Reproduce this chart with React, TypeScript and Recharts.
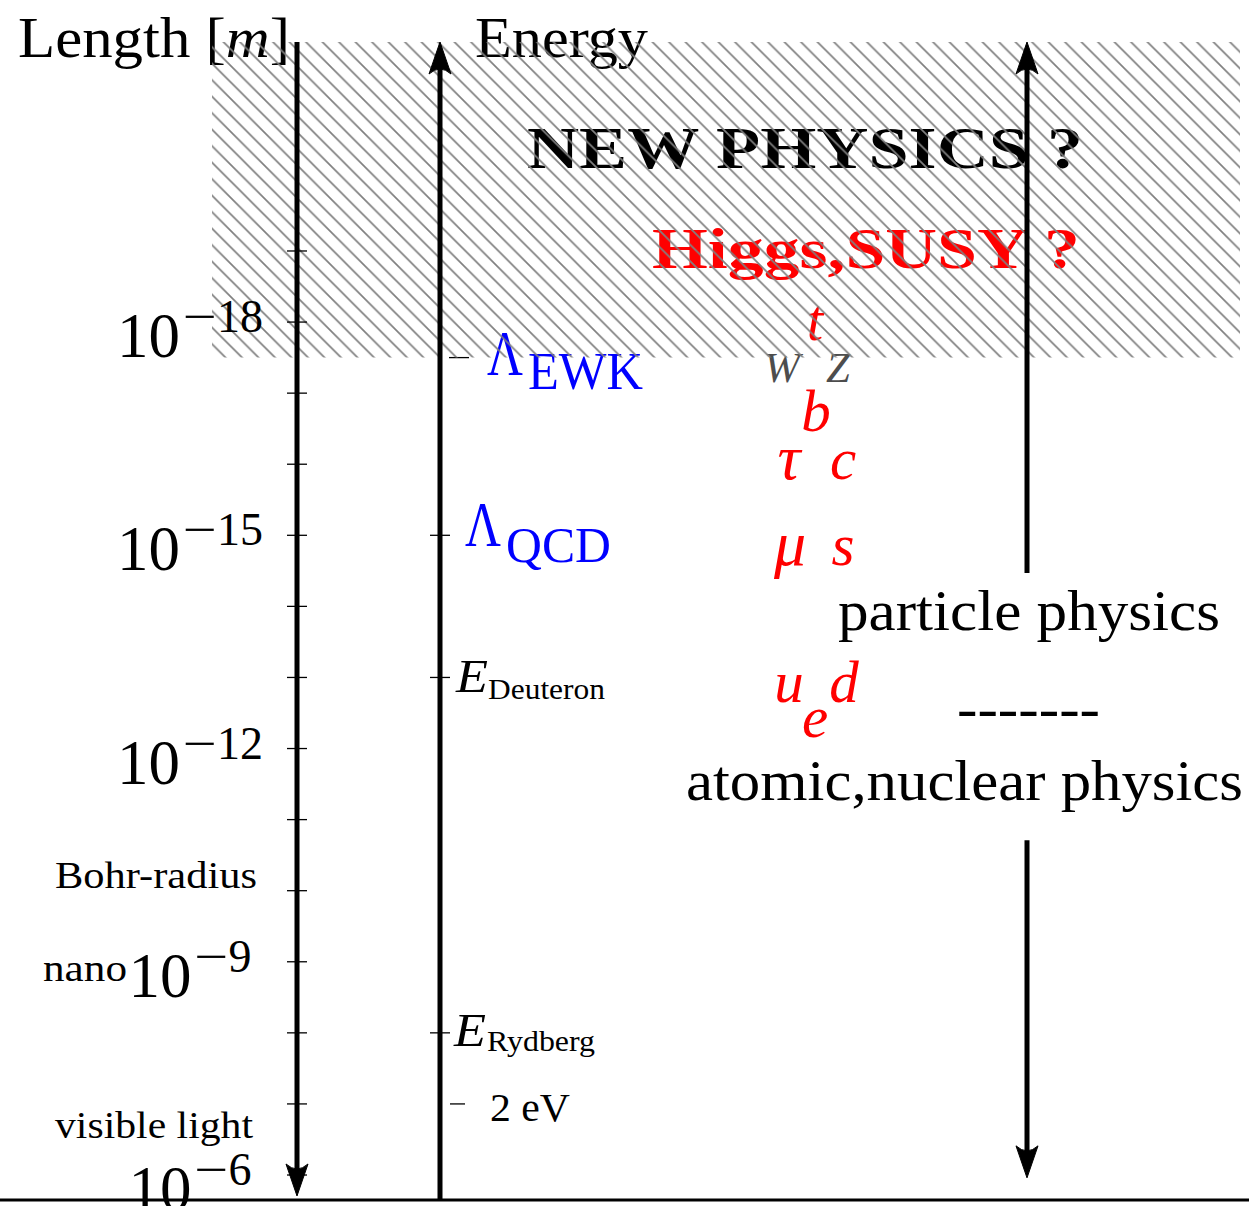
import React from 'react';
import { ComposedChart, XAxis, YAxis, Scatter, ReferenceArea, ReferenceLine } from 'recharts';

// ---------------- data (all vertical values are log10 of a length in metres) ----------------
const lengthTickExps = [-19, -18, -17, -16, -15, -14, -13, -12, -11, -10, -9, -8, -7, -6];
const lengthLabelExps = [-18, -15, -12, -9, -6];
const lengthNoteNames = ['Bohr-radius', 'nano', 'visible light'];
const lengthNoteExps = [-10.25, -9, -6.75];

const energyScaleNames = ['EWK', 'QCD', 'Deuteron', 'Rydberg', '2 eV'];
const energyScaleExps = [-17.5, -15, -13, -8, -7];

const particleNames = ['t', 'W', 'Z', 'b', 'τ', 'c', 'μ', 's', 'u', 'd', 'e'];
const particleExps = [-18, -17.35, -17.35, -16.72, -16, -16, -14.8, -14.8, -12.85, -12.85, -12.37];

const regionNames = ['NEW PHYSICS ?', 'Higgs,SUSY ?', 'particle physics', '-------', 'atomic,nuclear physics'];
const regionExps = [-20.46, -19.04, -13.92, -12.5, -11.52];

const titleNames = ['Length', 'Energy'];
const titleExps = [-22.01, -22.01];

const newPhysicsLimitExp = -17.5;
const axisTopExp = -21.94;
const axisBottomExp = -5.705;
const groundExp = -5.648;
const rightArrowUpper = [-21.94, -14.47];
const rightArrowLower = [-10.71, -5.96];

// ---------------- layout / style ----------------
const W = 1249;
const H = 1206;
const LEN_X = 297;
const EN_X = 440;
const RIGHT_X = 1027;
const X_DOMAIN: [number, number] = [LEN_X, W];
const Y_DOMAIN: [number, number] = [-22.531, -5.564];
const SERIF = '"Liberation Serif", "Times New Roman", serif';
const RED = '#ff0000';
const BLUE = '#0000ff';
const AXIS_W = 5;

const particleStyle: Record<string, { x: number; size: number; fill: string; dy: number }> = {
  t: { x: 815, size: 59, fill: RED, dy: 18 },
  W: { x: 782, size: 43, fill: '#4d4d4d', dy: 14 },
  Z: { x: 838, size: 43, fill: '#4d4d4d', dy: 14 },
  b: { x: 816, size: 59, fill: RED, dy: 18 },
  'τ': { x: 789, size: 64, fill: RED, dy: 15 },
  c: { x: 843, size: 59, fill: RED, dy: 15 },
  'μ': { x: 790, size: 64, fill: RED, dy: 15 },
  s: { x: 843, size: 59, fill: RED, dy: 15 },
  u: { x: 789, size: 59, fill: RED, dy: 14 },
  d: { x: 844, size: 59, fill: RED, dy: 14 },
  e: { x: 815, size: 59, fill: RED, dy: 15 },
};

const regionStyle: Record<string, any> = {
  'NEW PHYSICS ?': { x: 527, dy: 21, size: 60, bold: true, fill: '#000', len: 556 },
  'Higgs,SUSY ?': { x: 652, dy: 20, size: 58, bold: true, fill: RED, len: 428 },
  'particle physics': { x: 838, dy: 18, size: 56, fill: '#000', len: 382 },
  '-------': { x: 957, dy: 14, size: 56, fill: '#000', len: 143 },
  'atomic,nuclear physics': { x: 686, dy: 17, size: 56, fill: '#000', len: 557 },
};

const noteStyle: Record<string, { dx: number; dy: number; len: number }> = {
  'Bohr-radius': { dx: -40, dy: 15, len: 202 },
  nano: { dx: -170, dy: 19, len: 84 },
  'visible light': { dx: -44, dy: 16, len: 198 },
};

type TxtProps = {
  x: number;
  y: number;
  size: number;
  children: React.ReactNode;
  anchor?: 'start' | 'middle' | 'end';
  italic?: boolean;
  bold?: boolean;
  fill?: string;
  len?: number;
};
const Txt = ({ x, y, size, children, anchor = 'start', italic, bold, fill = '#000', len }: TxtProps) => (
  <text
    x={x}
    y={y}
    fontFamily={SERIF}
    fontSize={size}
    fontStyle={italic ? 'italic' : 'normal'}
    fontWeight={bold ? 'bold' : 'normal'}
    fill={fill}
    textAnchor={anchor}
    textLength={len}
    lengthAdjust={len ? 'spacingAndGlyphs' : undefined}
  >
    {children}
  </text>
);

// ---------------- data tables for the library ----------------
const noteData = lengthNoteNames.map((name, i) => ({ x: LEN_X, y: lengthNoteExps[i], name }));
const energyData = energyScaleNames.map((name, i) => ({ x: EN_X, y: energyScaleExps[i], name }));
const particleData = particleNames.map((name, i) => ({ x: particleStyle[name].x, y: particleExps[i], name }));
const regionData = regionNames.map((name, i) => ({ x: regionStyle[name].x, y: regionExps[i], name }));
const titleData = titleNames.map((name, i) => ({ x: name === 'Length' ? LEN_X : EN_X, y: titleExps[i], name }));
const arrowData = [
  { x: LEN_X, y: axisBottomExp, dir: 'down' },
  { x: EN_X, y: axisTopExp, dir: 'up' },
  { x: RIGHT_X, y: rightArrowUpper[0], dir: 'up' },
  { x: RIGHT_X, y: rightArrowLower[1], dir: 'down' },
];

// ---------------- renderers ----------------
const LengthTick = (p: any) => {
  const { x, y, payload } = p;
  const v = payload.value as number;
  const showLabel = lengthLabelExps.includes(v);
  const digits = String(Math.abs(v));
  return (
    <g>
      <line x1={x - 10} x2={x + 10} y1={y} y2={y} stroke="#000" strokeWidth={1.3} />
      {showLabel && (
        <text x={x - 107} y={y + 35} fontFamily={SERIF} textAnchor="middle" fill="#000">
          <tspan fontSize={63}>10</tspan>
          <tspan fontSize={46} dx={3} dy={-25} textLength={34} lengthAdjust="spacingAndGlyphs">
            −
          </tspan>
          <tspan fontSize={46}>{digits}</tspan>
        </text>
      )}
    </g>
  );
};

const NoteShape = (p: any) => {
  const { cx, cy, payload } = p;
  const s = noteStyle[payload.name];
  return (
    <Txt x={cx + s.dx} y={cy + s.dy} size={38} anchor="end" len={s.len}>
      {payload.name}
    </Txt>
  );
};

const EnergyShape = (p: any) => {
  const { cx, cy, payload } = p;
  const n = payload.name;
  const cross = <line x1={cx - 10} x2={cx + 10} y1={cy} y2={cy} stroke="#000" strokeWidth={1.3} />;
  if (n === 'EWK' || n === 'QCD') {
    const ewk = n === 'EWK';
    return (
      <g>
        {ewk ? <line x1={cx + 9} x2={cx + 29} y1={cy} y2={cy} stroke="#000" strokeWidth={1.3} /> : cross}
        <Txt x={cx + (ewk ? 47 : 25)} y={cy + (ewk ? 17 : 11)} size={64} fill={BLUE} len={36}>
          Λ
        </Txt>
        <Txt x={cx + (ewk ? 88 : 66)} y={cy + (ewk ? 31 : 27)} size={ewk ? 52 : 50} fill={BLUE} len={ewk ? 115 : 105}>
          {n}
        </Txt>
      </g>
    );
  }
  if (n === '2 eV') {
    return (
      <g>
        <line x1={cx + 10} x2={cx + 25} y1={cy} y2={cy} stroke="#000" strokeWidth={1.3} />
        <Txt x={cx + 50} y={cy + 17} size={40} len={80}>
          2 eV
        </Txt>
      </g>
    );
  }
  const deut = n === 'Deuteron';
  return (
    <g>
      {cross}
      <Txt x={cx + (deut ? 16 : 14)} y={cy + (deut ? 15 : 13)} size={47} italic len={32}>
        E
      </Txt>
      <Txt x={cx + (deut ? 48 : 47)} y={cy + (deut ? 22 : 18)} size={29} len={deut ? 117 : 108}>
        {n}
      </Txt>
    </g>
  );
};

const ParticleShape = (p: any) => {
  const { cx, cy, payload } = p;
  const s = particleStyle[payload.name];
  return (
    <Txt x={cx} y={cy + s.dy} size={s.size} italic anchor="middle" fill={s.fill}>
      {payload.name}
    </Txt>
  );
};

const RegionShape = (p: any) => {
  const { cx, cy, payload } = p;
  const s = regionStyle[payload.name];
  return (
    <Txt x={cx} y={cy + s.dy} size={s.size} bold={s.bold} fill={s.fill} len={s.len}>
      {payload.name}
    </Txt>
  );
};

const TitleShape = (p: any) => {
  const { cx, cy, payload } = p;
  if (payload.name === 'Length') {
    return (
      <text x={cx - 279} y={cy + 20} fontFamily={SERIF} fontSize={58} fill="#000" textLength={272} lengthAdjust="spacingAndGlyphs">
        <tspan>Length [</tspan>
        <tspan fontStyle="italic">m</tspan>
        <tspan>]</tspan>
      </text>
    );
  }
  return (
    <Txt x={cx + 35} y={cy + 20} size={58} len={173}>
      {payload.name}
    </Txt>
  );
};

const ArrowShape = (p: any) => {
  const { cx, cy, payload } = p;
  const s = payload.dir === 'down' ? 1 : -1;
  const d = `M ${cx} ${cy} L ${cx - 11} ${cy - s * 32} Q ${cx} ${cy - s * 22} ${cx + 11} ${cy - s * 32} Z`;
  return <path d={d} fill="#000" stroke="#000" strokeWidth={1} strokeLinejoin="miter" />;
};

export default function App() {
  return (
    <div style={{ position: 'absolute', left: 0, top: 0, background: '#fff' }}>
      <ComposedChart width={W} height={H} margin={{ top: 0, right: 0, bottom: 0, left: LEN_X - 60 }}>
        <defs>
          <pattern id="hatch" width={16.5} height={16.5} patternUnits="userSpaceOnUse">
            <path d="M -4 12.5 L 4 20.5 M 0 0 L 16.5 16.5 M 12.5 -4 L 20.5 4" stroke="#808080" strokeWidth={1.7} />
          </pattern>
        </defs>
        <XAxis type="number" dataKey="x" domain={X_DOMAIN} hide />
        <YAxis
          type="number"
          dataKey="y"
          domain={Y_DOMAIN}
          reversed
          width={60}
          ticks={lengthTickExps}
          interval={0}
          tick={(p: any) => <LengthTick {...p} />}
          tickSize={0}
          tickMargin={0}
          axisLine={false}
          tickLine={false}
        />
        <Scatter data={titleData} shape={TitleShape} isAnimationActive={false} />
        <Scatter data={regionData} shape={RegionShape} isAnimationActive={false} />
        <Scatter data={particleData} shape={ParticleShape} isAnimationActive={false} />
        <Scatter data={energyData} shape={EnergyShape} isAnimationActive={false} />
        <Scatter data={noteData} shape={NoteShape} isAnimationActive={false} />
        <ReferenceArea
          x1={212}
          x2={1240}
          y1={axisTopExp}
          y2={newPhysicsLimitExp}
          ifOverflow="visible"
          fill="url(#hatch)"
          fillOpacity={1}
          stroke="none"
          {...({ zIndex: 650 } as any)}
        />
        <ReferenceLine
          segment={[
            { x: LEN_X, y: axisTopExp },
            { x: LEN_X, y: axisBottomExp - 0.3 },
          ]}
          stroke="#000"
          strokeWidth={AXIS_W}
          ifOverflow="visible"
          {...({ zIndex: 700 } as any)}
        />
        <ReferenceLine
          segment={[
            { x: EN_X, y: groundExp + 0.01 },
            { x: EN_X, y: axisTopExp + 0.3 },
          ]}
          stroke="#000"
          strokeWidth={AXIS_W}
          ifOverflow="visible"
          {...({ zIndex: 700 } as any)}
        />
        <ReferenceLine
          segment={[
            { x: RIGHT_X, y: rightArrowUpper[0] + 0.3 },
            { x: RIGHT_X, y: rightArrowUpper[1] },
          ]}
          stroke="#000"
          strokeWidth={AXIS_W}
          ifOverflow="visible"
          {...({ zIndex: 700 } as any)}
        />
        <ReferenceLine
          segment={[
            { x: RIGHT_X, y: rightArrowLower[0] },
            { x: RIGHT_X, y: rightArrowLower[1] - 0.3 },
          ]}
          stroke="#000"
          strokeWidth={AXIS_W}
          ifOverflow="visible"
          {...({ zIndex: 700 } as any)}
        />
        <ReferenceLine
          segment={[
            { x: 0, y: groundExp },
            { x: W, y: groundExp },
          ]}
          stroke="#000"
          strokeWidth={3}
          ifOverflow="visible"
          {...({ zIndex: 700 } as any)}
        />
        <Scatter data={arrowData} shape={ArrowShape} isAnimationActive={false} {...({ zIndex: 700 } as any)} />
      </ComposedChart>
    </div>
  );
}
